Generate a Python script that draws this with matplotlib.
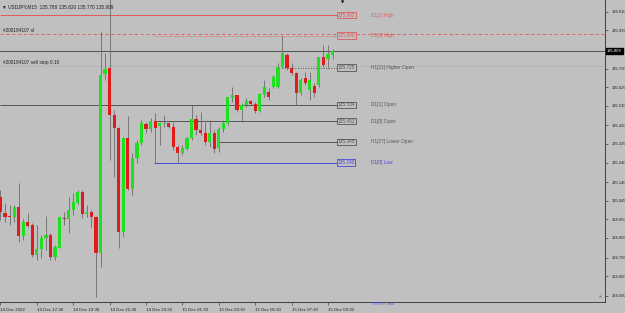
import matplotlib
matplotlib.use("Agg")
import matplotlib.pyplot as plt
from matplotlib.transforms import Bbox

# M15 bars, 14 Dec 2022 15:30 -> 15 Dec 2022 09:45
opens = [135.064, 134.984, 134.968, 134.963, 135.013, 134.865, 134.936, 134.921, 134.768, 134.798,
         134.855, 134.870, 134.758, 134.803, 134.957, 134.952, 134.998, 135.033, 135.089, 134.977,
         134.987, 134.962, 134.778, 135.692, 135.723, 135.483, 135.416, 134.885, 135.365, 135.105,
         135.263, 135.340, 135.437, 135.411, 135.452, 135.426, 135.437, 135.442, 135.421, 135.319,
         135.289, 135.309, 135.365, 135.462, 135.406, 135.391, 135.345, 135.391, 135.314, 135.411,
         135.442, 135.569, 135.585, 135.508, 135.534, 135.554, 135.539, 135.503, 135.585, 135.600,
         135.625, 135.625, 135.728, 135.789, 135.723, 135.697, 135.595, 135.671, 135.610, 135.631,
         135.636, 135.779, 135.768, 135.788]
highs = [135.100, 135.033, 135.023, 135.023, 135.135, 134.952, 134.982, 134.931, 134.921, 134.870,
         134.967, 134.880, 134.819, 134.963, 134.989, 135.065, 135.084, 135.100, 135.100, 135.023,
         134.998, 134.967, 135.906, 135.799, 136.080, 135.508, 135.421, 135.370, 135.477, 135.289,
         135.355, 135.457, 135.448, 135.467, 135.493, 135.447, 135.483, 135.448, 135.447, 135.329,
         135.329, 135.372, 135.534, 135.483, 135.499, 135.448, 135.457, 135.406, 135.423, 135.457,
         135.576, 135.625, 135.585, 135.544, 135.568, 135.559, 135.550, 135.593, 135.661, 135.620,
         135.687, 135.748, 135.888, 135.799, 135.748, 135.702, 135.671, 135.702, 135.702, 135.646,
         135.779, 135.840, 135.840, 135.820]
lows = [134.946, 134.936, 134.921, 134.938, 134.834, 134.844, 134.912, 134.759, 134.742, 134.752,
        134.793, 134.742, 134.742, 134.802, 134.921, 134.880, 134.972, 135.028, 134.957, 134.962,
        134.911, 134.553, 134.707, 135.661, 135.253, 135.166, 134.803, 134.860, 135.100, 135.074,
        135.237, 135.329, 135.391, 135.397, 135.240, 135.329, 135.421, 135.416, 135.304, 135.245,
        135.278, 135.304, 135.355, 135.380, 135.380, 135.329, 135.321, 135.289, 135.295, 135.397,
        135.431, 135.549, 135.499, 135.448, 135.525, 135.534, 135.491, 135.499, 135.576, 135.559,
        135.620, 135.620, 135.723, 135.712, 135.687, 135.534, 135.585, 135.636, 135.559, 135.574,
        135.625, 135.728, 135.723, 135.770]
closes = [134.987, 134.963, 134.963, 135.013, 134.865, 134.936, 134.918, 134.768, 134.798, 134.855,
          134.870, 134.758, 134.809, 134.962, 134.952, 134.998, 135.038, 135.089, 134.977, 134.987,
          134.962, 134.778, 135.687, 135.717, 135.483, 135.416, 134.885, 135.365, 135.105, 135.263,
          135.340, 135.442, 135.411, 135.452, 135.418, 135.442, 135.442, 135.421, 135.319, 135.289,
          135.314, 135.365, 135.462, 135.406, 135.391, 135.345, 135.391, 135.309, 135.411, 135.442,
          135.574, 135.585, 135.508, 135.534, 135.554, 135.539, 135.503, 135.590, 135.625, 135.574,
          135.677, 135.728, 135.799, 135.723, 135.697, 135.595, 135.661, 135.646, 135.661, 135.595,
          135.779, 135.738, 135.794, 135.809]

time_labels = ["14 Dec 2022", "14 Dec 17:30", "14 Dec 19:30", "14 Dec 21:30", "14 Dec 23:30",
               "15 Dec 01:30", "15 Dec 03:30", "15 Dec 05:30", "15 Dec 07:30", "15 Dec 09:30"]
price_ticks = [136.010, 135.915, 135.720, 135.625, 135.530, 135.430, 135.335, 135.240,
               135.140, 135.045, 134.950, 134.855, 134.755, 134.660, 134.560]

# levels: name, price, first bar, colour, style
levels = [
    ("D1[1] High", 135.993, 0, "#e05a5a", "-"),
    ("D1[0] High", 135.888, 34, "#e05a5a", ":"),
    ("H1[11] Higher Open", 135.725, 62, "#555555", ":"),
    ("D1[1] Open", 135.534, 0, "#555555", "-"),
    ("D1[0] Open", 135.452, 34, "#555555", "-"),
    ("H1[27] Lower Open", 135.345, 48, "#555555", "-"),
    ("D1[0] Low", 135.240, 34, "#4848d8", "-"),
]
sl_price = 135.896
sellstop_price = 135.733
bid = 135.809

bg = "#c0c0c0"
up_col = "#1fe01f"
dn_col = "#e01b1b"
wick_col = "#6a6a6a"

fig = plt.figure(figsize=(6.25, 3.13), dpi=100, facecolor=bg)
ax = fig.add_axes([0, 11 / 313, 605 / 625, 302 / 313], facecolor=bg)
ax.set_xlim(-0.1, 132.9)
ax.set_ylim(134.528, 136.070)

font = "Liberation Sans"
fs = 3.4

# order lines across the whole chart
ax.axhline(sl_price, color="#e05a5a", lw=0.6, ls=(0, (4, 3)), zorder=1)
ax.axhline(sellstop_price, color="#8aa88a", lw=0.6, ls=(0, (1, 2)), zorder=1)
ax.axhline(bid, color="#505050", lw=0.7, zorder=1)
ax.text(0.5, sl_price + 0.004, "#200184107 sl", fontsize=fs, family=font, color="#202020", va="bottom")
ax.text(0.5, sellstop_price + 0.004, "#200184107 sell stop 0.10", fontsize=fs, family=font,
        color="#202020", va="bottom")

# levels with price boxes
box_x = 74.1
for name, p, start, col, ls in levels:
    ax.hlines(p, start - 0.2, box_x, color=col, lw=0.7, ls=ls, zorder=1)
    ax.text(box_x, p, f"{p:.3f}", fontsize=fs, family=font, color=col, va="center", ha="left",
            bbox=dict(boxstyle="square,pad=0.15", fc=bg, ec=col, lw=0.6), zorder=3)
    ax.text(81.5, p, name, fontsize=fs, family=font, color=col, va="center", ha="left", zorder=3)

# candles
for i in range(len(opens)):
    o, h, l, c = opens[i], highs[i], lows[i], closes[i]
    ax.vlines(i, l, h, color=wick_col, lw=0.6, zorder=2)
    col = up_col if c >= o else dn_col
    body = abs(c - o)
    if body < 0.002:
        body = 0.002
    ax.bar(i, body, bottom=min(o, c), width=0.7, color=col, edgecolor=col, lw=0, zorder=3)

# axes styling
for s in ["left", "top"]:
    ax.spines[s].set_visible(False)
ax.spines["right"].set_color("#404040")
ax.spines["bottom"].set_color("#404040")
ax.spines["right"].set_linewidth(0.7)
ax.spines["bottom"].set_linewidth(0.7)

ax.yaxis.tick_right()
ax.set_yticks(price_ticks)
ax.set_yticklabels([f"{p:.3f}" for p in price_ticks], fontsize=3.0, family=font, color="#202020")
ax.tick_params(axis="y", length=2, width=0.5, color="#404040", pad=2.5)

ax.set_xticks(range(0, 8 * len(time_labels), 8))
ax.set_xticklabels(time_labels, fontsize=3.2, family=font, color="#202020", ha="left")
ax.tick_params(axis="x", length=2, width=0.5, color="#404040", pad=2)

# bid box on price axis
ax.annotate(f"{bid:.3f}", xy=(1.0, bid), xycoords=("axes fraction", "data"),
            xytext=(1.5, 0), textcoords="offset points", fontsize=3.0, family=font,
            color="white", va="center", ha="left",
            bbox=dict(boxstyle="square,pad=0.2", fc="black", ec="black"), annotation_clip=False)

# label of a level below the visible range, only its top shows under the axis
t = fig.text(372 / 625, 1 - 302 / 313, "D1[1] Low", fontsize=fs, family=font, color="#4848d8",
             va="top", ha="left")
t.set_clip_on(True)
t.set_clip_box(Bbox.from_extents(360, 313 - 305, 420, 313 - 302))

# small markers: one-click arrow at top and chart shift at bottom right
fig.text(343 / 625, 1.0, "\u25bc", fontsize=3, family="DejaVu Sans", color="black",
         ha="center", va="top")
fig.text(600 / 625, 1 - 297 / 313, "\u25b2", fontsize=2.5, family="DejaVu Sans", color="#707070",
         ha="center", va="center")

# header
fig.text(0.004, 0.985, "\u25bc USDJPY,M15  135.788 135.820 135.770 135.809", fontsize=fs,
         family=["Liberation Sans", "DejaVu Sans"], color="#202020", va="top")

fig.savefig("out.png", dpi=100, facecolor=bg)
